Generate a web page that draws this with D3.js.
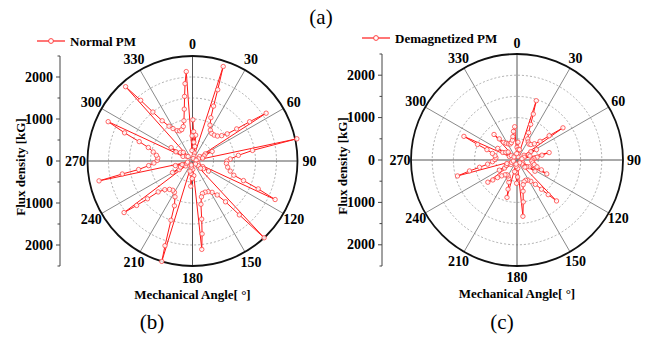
<!DOCTYPE html>
<html lang="en">
<head>
<meta charset="UTF-8">
<script src="https://d3js.org/d3.v7.min.js"></script>
<title>Flux density polar plots</title>
<style>
  body { margin: 0; background: #fff; }
  text { font-family: "Liberation Serif", "Times New Roman", serif; }
</style>
</head>
<body>
<script>
// angle [deg] / flux density [kG]
const normalAngle = [0.5, 2, 4, 7, 9, 12, 15, 17, 18, 19.5, 21, 23, 26, 30, 35, 40, 45, 49, 52, 54, 55.5, 57,
  58, 61, 64, 66, 70, 74, 77, 78, 80, 83, 87, 90, 94, 100, 105, 109, 111, 113, 115,
  116, 119, 122, 125, 129, 132, 135, 137, 139, 141, 144, 148, 153, 158, 163, 166, 169, 171, 172.5, 174,
  175, 178, 181, 184, 187, 190, 194, 196, 197, 198, 200, 202, 206, 210, 214, 219, 224, 228, 230, 231.5, 233,
  234, 237, 240, 243, 247, 251, 255, 257, 258, 259.5, 261, 264, 267, 271, 275, 279, 283, 287, 290, 292.5, 295,
  296, 299, 302, 305, 309, 313, 316, 318, 319.5, 321, 323, 326, 329, 333, 337, 341, 345, 348, 351, 353, 354.5, 356,
  357, 359];
const normalFlux = [980, 700, 450, 620, 350, 200, 120, 60, 2365, 1800, 1400, 1120, 950, 850, 800, 805, 840, 920, 1050, 1300, 1650, 2090,
  200, 350, 520, 300, 150, 250, 90, 2540, 1450, 1100, 900, 820, 810, 850, 930, 1040, 1300, 1700, 2170,
  150, 280, 450, 320, 180, 260, 100, 2500, 1700, 1250, 1000, 880, 820, 800, 810, 880, 1050, 1400, 1750, 2115,
  350, 200, 420, 600, 300, 150, 250, 100, 2500, 2120, 1500, 1150, 950, 860, 840, 870, 950, 1100, 1400, 1700, 2040,
  200, 380, 550, 320, 150, 260, 420, 120, 2275, 1700, 1300, 1050, 920, 840, 830, 870, 960, 1100, 1350, 1750, 2215,
  250, 450, 600, 350, 180, 300, 150, 2380, 1900, 1500, 1200, 1000, 900, 810, 780, 790, 850, 980, 1250, 1550, 1850, 2134,
  250, 600];

const demagAngle = [0, 3, 6, 10, 14, 17, 18, 19.5, 21, 23, 27, 32, 37, 42, 47, 51, 53, 55,
  56, 59, 62, 65, 69, 73, 76, 77, 79, 82, 86, 90, 95, 100, 105, 109, 112, 115,
  116, 119, 122, 125, 129, 132, 135, 136, 138, 140, 143, 147, 152, 157, 162, 166, 169, 171.5, 174,
  175, 178, 181, 184, 188, 192, 194, 195, 197, 200, 204, 209, 214, 219, 224, 228, 230.5, 232.7,
  234, 237, 240, 243, 247, 251, 254, 255, 257, 259, 262, 266, 271, 276, 281, 285, 289, 291.5, 294,
  295, 298, 301, 304, 308, 312, 315, 318, 320, 323, 327, 332, 337, 342, 347, 350, 353, 356, 357];
const demagFlux = [300, 420, 250, 150, 250, 80, 1470, 1150, 900, 700, 560, 500, 470, 490, 560, 700, 950, 1323,
  200, 380, 520, 300, 180, 320, 120, 777, 600, 480, 400, 360, 350, 380, 420, 500, 620, 775,
  150, 330, 500, 280, 150, 250, 90, 1342, 1100, 900, 720, 600, 540, 520, 540, 600, 750, 1000, 1335,
  200, 400, 550, 300, 150, 280, 100, 913, 720, 560, 480, 430, 420, 450, 520, 620, 740, 864,
  180, 350, 480, 280, 140, 250, 90, 1453, 1150, 900, 700, 580, 520, 500, 530, 600, 750, 1000, 1370,
  200, 380, 530, 320, 170, 280, 100, 810, 650, 520, 470, 430, 410, 430, 480, 560, 680, 786, 150];

const angleTicks = [0, 30, 60, 90, 120, 150, 180, 210, 240, 270, 300, 330];
const rTicks = [-2000, -1000, 0, 1000, 2000];
const rMax = 2500;

const svg = d3.select("body").append("svg")
  .attr("width", 649).attr("height", 337);

function polarPlot(cfg) {
  const R = cfg.R;
  const g = svg.append("g").attr("transform", `translate(${cfg.cx},${cfg.cy})`);
  const r = d3.scaleLinear().domain([0, rMax]).range([0, R]);

  // dashed rings
  g.selectAll(".ring").data([500, 1000, 1500, 2000]).enter().append("circle")
    .attr("r", d => r(d)).attr("fill", "none")
    .attr("stroke", "#9a9a9a").attr("stroke-width", 0.8).attr("stroke-dasharray", "2,2");

  // spokes
  g.selectAll(".spoke").data(angleTicks).enter().append("line")
    .attr("x1", 0).attr("y1", 0)
    .attr("x2", d => R * Math.sin(d * Math.PI / 180))
    .attr("y2", d => -R * Math.cos(d * Math.PI / 180))
    .attr("stroke", d => d % 90 === 0 ? "#555" : "#8a8a8a").attr("stroke-width", 1);

  // outer circle
  g.append("circle").attr("r", R).attr("fill", "none").attr("stroke", "#111").attr("stroke-width", 1.8);

  // angle labels
  g.selectAll(".alab").data(angleTicks).enter().append("text")
    .attr("x", d => 117 * Math.sin(d * Math.PI / 180))
    .attr("y", d => -117 * Math.cos(d * Math.PI / 180))
    .attr("text-anchor", "middle").attr("dominant-baseline", "central")
    .attr("font-size", 14).attr("font-weight", "bold")
    .text(d => d);

  // data
  const pts = cfg.angle.map((a, i) => [a * Math.PI / 180, cfg.flux[i]]);
  const line = d3.lineRadial().angle(d => d[0]).radius(d => r(d[1]));
  g.append("path").attr("d", line(pts)).attr("fill", "none")
    .attr("stroke", "#ff1a1a").attr("stroke-width", 1);
  g.selectAll(".pt").data(pts).enter().append("circle")
    .attr("cx", d => r(d[1]) * Math.sin(d[0]))
    .attr("cy", d => -r(d[1]) * Math.cos(d[0]))
    .attr("r", 2.2).attr("fill", "#fff").attr("fill-opacity", 0.85)
    .attr("stroke", "#ff4040").attr("stroke-width", 0.8);

  // radial (flux) axis on the left
  const y = d3.scaleLinear().domain([rMax, -rMax]).range([cfg.cy - R, cfg.cy + R]);
  const ax = svg.append("g").attr("transform", `translate(${cfg.ax},0)`);
  ax.append("line").attr("y1", y(rMax)).attr("y2", y(-rMax)).attr("stroke", "#444").attr("stroke-width", 1);
  ax.selectAll(".minor").data(d3.range(-2500, 2501, 500)).enter().append("line")
    .attr("x1", 0).attr("x2", d => d % 1000 === 0 ? -4 : -2.5)
    .attr("y1", d => y(d)).attr("y2", d => y(d)).attr("stroke", "#444");
  ax.selectAll(".rlab").data(rTicks).enter().append("text")
    .attr("x", -7).attr("y", d => y(d)).attr("dominant-baseline", "central")
    .attr("text-anchor", "end").attr("font-size", 14).attr("font-weight", "bold")
    .text(d => Math.abs(d));
  svg.append("text")
    .attr("transform", `translate(${cfg.ax - 40},${cfg.cy + 6}) rotate(-90)`)
    .attr("text-anchor", "middle").attr("dominant-baseline", "central")
    .attr("font-size", 13).attr("font-weight", "bold")
    .text("Flux density [kG]");

  // x title
  svg.append("text").attr("x", cfg.cx).attr("y", cfg.cy + 138)
    .attr("text-anchor", "middle").attr("font-size", 13).attr("font-weight", "bold")
    .text("Mechanical Angle[ °]");

  // legend
  const lg = svg.append("g").attr("transform", `translate(${cfg.lx},${cfg.ly})`);
  lg.append("line").attr("x1", 0).attr("x2", 28).attr("stroke", "#ff1a1a").attr("stroke-width", 1.2);
  lg.append("circle").attr("cx", 14).attr("r", 2.4).attr("fill", "#fff").attr("stroke", "#ff4040");
  lg.append("text").attr("x", 33).attr("dominant-baseline", "central")
    .attr("font-size", 13).attr("font-weight", "bold").text(cfg.name);

  svg.append("text").attr("x", cfg.px).attr("y", 322)
    .attr("text-anchor", "middle").attr("dominant-baseline", "central")
    .attr("font-size", 21).text(cfg.panel);
}

polarPlot({cx: 192.5, cy: 161, R: 105, ax: 60, angle: normalAngle, flux: normalFlux,
  name: "Normal PM", lx: 37, ly: 41, px: 152, panel: "(b)"});
polarPlot({cx: 517, cy: 160, R: 106, ax: 382, angle: demagAngle, flux: demagFlux,
  name: "Demagnetized PM", lx: 362, ly: 38, px: 502, panel: "(c)"});

svg.append("text").attr("x", 321).attr("y", 17)
  .attr("text-anchor", "middle").attr("dominant-baseline", "central")
  .attr("font-size", 21).text("(a)");
</script>
</body>
</html>
